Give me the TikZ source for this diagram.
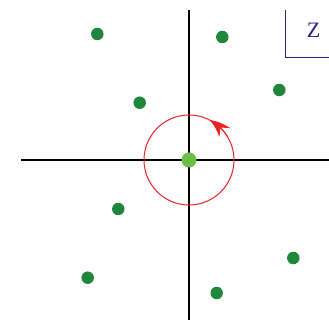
\documentclass[tikz,border=0pt]{standalone}
\usepackage{fontspec}
\setmainfont{Liberation Serif}
\usetikzlibrary{arrows.meta,bending}
\definecolor{dkgreen}{RGB}{30,135,60}
\definecolor{ltgreen}{RGB}{110,190,70}
\definecolor{myred}{RGB}{235,35,35}
\definecolor{navy}{RGB}{40,40,125}
\begin{document}
\begin{tikzpicture}[x=1pt,y=-1pt,
  axis/.style={draw=black,line width=1.1pt},
  dot/.style={circle,fill=dkgreen,inner sep=0pt,minimum size=12.5pt},
  cdot/.style={circle,fill=ltgreen,inner sep=0pt,minimum size=15pt},
  loop/.style={draw=myred,line width=1pt},
  zbox/.style={draw=navy,line width=1pt}]
\useasboundingbox (0,0) rectangle (329,320);
% axes
\coordinate (vt) at (189,10);
\coordinate (vb) at (189,320);
\coordinate (hl) at (21,160);
\coordinate (hr) at (329,160);
\draw[axis] (vt) -- (vb);
\draw[axis] (hl) -- (hr);
% contour circle
\coordinate (o) at (189,160);
\coordinate (as) at (228.0,137.5);
\draw[loop] (o) circle (45);
\draw[loop,-{Stealth[length=20pt,width=14pt,bend]}] (as) arc[start angle=-30,end angle=-63,radius=45];
% dots
\node[dot] (d1) at (97.3,34) {};
\node[dot] (d2) at (222.3,37) {};
\node[dot] (d3) at (279.3,90) {};
\node[dot] (d4) at (139.7,102.7) {};
\node[dot] (d5) at (118.3,209) {};
\node[dot] (d6) at (293.3,258) {};
\node[dot] (d7) at (87.7,277.7) {};
\node[dot] (d8) at (216.7,293) {};
\node[cdot] (c) at (o) {};
% z label box
\coordinate (zt) at (285,10);
\coordinate (zc) at (285,57.5);
\coordinate (zr) at (329,57.5);
\draw[zbox] (zt) -- (zc) -- (zr);
\node[text=navy,font=\fontsize{22}{26}\selectfont,inner sep=0pt] (z) at (313.5,30) {Z};
\end{tikzpicture}
\end{document}
